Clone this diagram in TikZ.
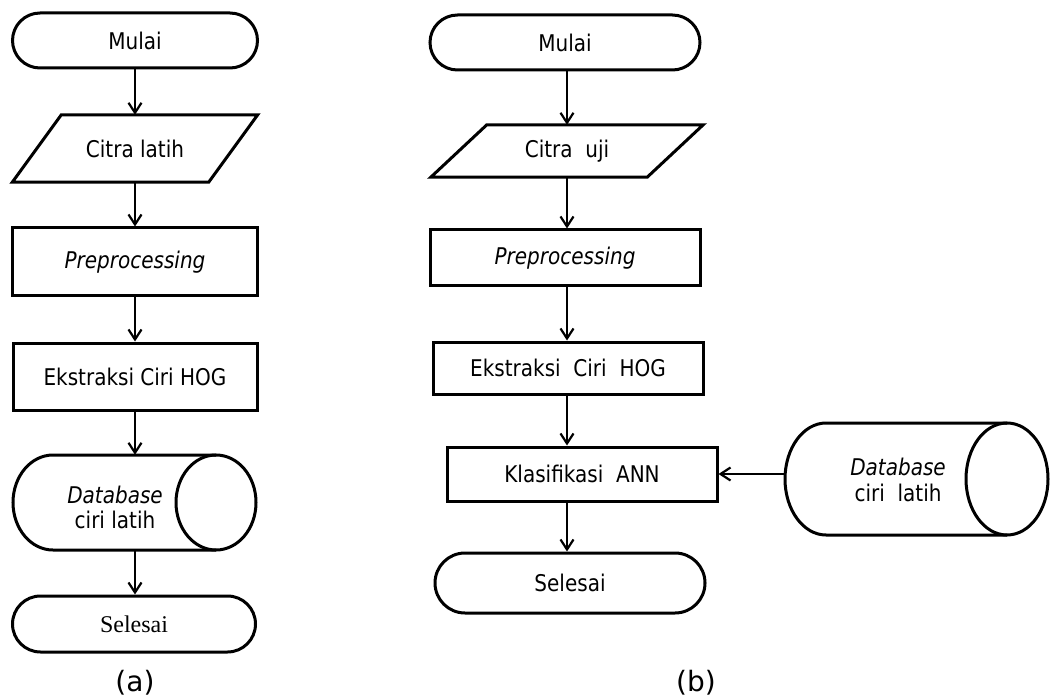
\documentclass[tikz,border=0pt]{standalone}
\usepackage{fontspec}
\setmainfont{DejaVu Sans}[FakeStretch=0.87]
\newfontfamily\capfont{DejaVu Sans}
\newfontfamily\serifA{Liberation Serif}
\usetikzlibrary{arrows.meta,shapes.misc}
\begin{document}
\begin{tikzpicture}[x=1pt,y=-1pt,
  txt/.style={font=\fontsize{23}{27}\selectfont, inner sep=0pt, align=center},
  term/.style={rounded rectangle, draw, line width=3pt, minimum height=55pt, inner sep=0pt, font=\fontsize{23}{27}\selectfont},
  procbox/.style={rectangle, draw, line width=3pt, inner sep=0pt, font=\fontsize{23}{27}\selectfont},
  bbox/.style={rectangle, inner sep=0pt},
  flow/.style={line width=2.2pt, -{Straight Barb[length=10pt,width=13pt,line width=2.2pt]}},
  outl/.style={line width=3pt, line join=miter}
]
\useasboundingbox (0,0) rectangle (1051,700);

% ---------- (a) ----------
\node[term, minimum width=245pt] (muA) at (135,40.5) {Mulai};
\node[bbox, minimum width=245pt, minimum height=67pt, font=\fontsize{23}{27}\selectfont] (ciA) at (135,148.5) {Citra latih};
\draw[outl] ([xshift=49pt]ciA.north west) -- (ciA.north east) -- ([xshift=-49pt]ciA.south east) -- (ciA.south west) -- cycle;
\node[procbox, minimum width=245pt, minimum height=68pt] (prA) at (135,262) {\itshape Preprocessing};
\node[procbox, minimum width=244pt, minimum height=67pt] (ekA) at (135,376.5) {Ekstraksi Ciri HOG};
\node[bbox, minimum width=243pt, minimum height=95pt] (dbA) at (135,502.5) {};
\draw[outl] (216,502.5) ellipse [x radius=40pt, y radius=47.5pt];
\draw[outl] (216,455) -- (53,455) arc[start angle=90, end angle=270, x radius=40pt, y radius=47.5pt] -- (216,550);
\node[txt] (dbAt) at (115,507) {\itshape Database\\[-2pt]ciri latih};
\node[term, minimum width=243pt, minimum height=56pt, font=\fontsize{24}{27}\serifA] (seA) at (134,624) {Selesai};
\node[font=\fontsize{28}{32}\capfont, inner sep=0pt] (capA) at (135,683) {(a)};

\draw[flow] (muA.south) -- (muA.south |- ciA.north);
\draw[flow] (ciA.south) -- (ciA.south |- prA.north);
\draw[flow] (prA.south) -- (prA.south |- ekA.north);
\draw[flow] (ekA.south) -- (ekA.south |- dbA.north);
\draw[flow] (dbA.south) -- (dbA.south |- seA.north);

% ---------- (b) ----------
\node[term, minimum width=270pt] (muB) at (565,42.5) {Mulai};
\node[bbox, minimum width=272pt, minimum height=52pt, font=\fontsize{23}{27}\selectfont] (ciB) at (567,151) {Citra\ \ uji};
\draw[outl] ([xshift=56pt]ciB.north west) -- (ciB.north east) -- ([xshift=-56pt]ciB.south east) -- (ciB.south west) -- cycle;
\node[procbox, minimum width=270pt, minimum height=56pt] (prB) at (565,258) {\itshape Preprocessing};
\node[procbox, minimum width=270pt, minimum height=52pt] (ekB) at (568,368) {Ekstraksi\ \ Ciri\ \ HOG};
\node[procbox, minimum width=270pt, minimum height=54pt] (klB) at (582,474) {Klasifikasi\ \ ANN};
\node[term, minimum width=270pt, minimum height=60pt] (seB) at (570,583) {Selesai};
\node[bbox, minimum width=263pt, minimum height=112pt] (dbB) at (916.5,479) {};
\draw[outl] (1007,479) ellipse [x radius=41pt, y radius=56pt];
\draw[outl] (1007,423) -- (826,423) arc[start angle=90, end angle=270, x radius=41pt, y radius=56pt] -- (1007,535);
\node[txt] (dbBt) at (898,480) {\itshape Database\\[-1pt]ciri\ \ latih};
\node[font=\fontsize{28}{32}\capfont, inner sep=0pt] (capB) at (696,683) {(b)};

\draw[flow] (muB.south -| 567,0) -- (ciB.north);
\draw[flow] (ciB.south) -- (prB.north -| 567,0);
\draw[flow] (prB.south -| 567,0) -- (ekB.north -| 567,0);
\draw[flow] (ekB.south -| 567,0) -- (klB.north -| 567,0);
\draw[flow] (klB.south -| 567,0) -- (seB.north -| 567,0);
\draw[flow] (dbB.west |- klB.east) -- (klB.east);
\end{tikzpicture}
\end{document}
